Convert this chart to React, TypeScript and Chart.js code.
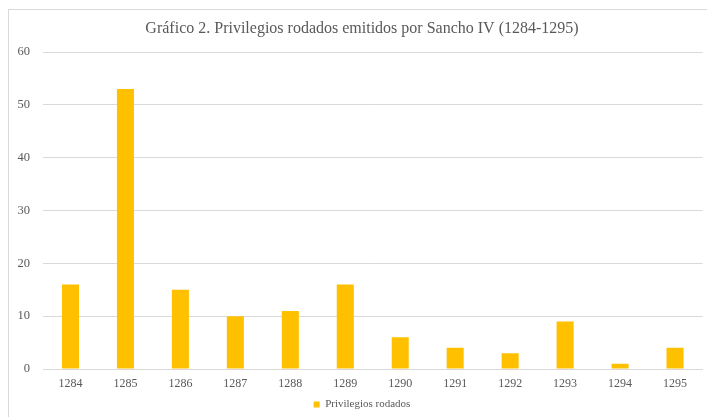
import React, { useEffect, useRef } from "react";
import { Chart, registerables } from "chart.js";

Chart.register(...registerables);

const years = ["1284", "1285", "1286", "1287", "1288", "1289", "1290", "1291", "1292", "1293", "1294", "1295"];
const privilegios = [16, 53, 15, 10, 11, 16, 6, 4, 3, 9, 1, 4];
const seriesName = "Privilegios rodados";
const chartTitle = "Gráfico 2. Privilegios rodados emitidos por Sancho IV (1284-1295)";

const FONT = "'Liberation Serif', 'DejaVu Serif', serif";
const TEXT = "#595959";
const GRID = "#d9d9d9";
const GOLD = "#FFC000";

export default function App() {
  const ref = useRef<HTMLCanvasElement | null>(null);

  useEffect(() => {
    if (!ref.current) return;
    const chart = new Chart(ref.current, {
      type: "bar",
      data: {
        labels: years,
        datasets: [
          {
            label: seriesName,
            data: privilegios,
            backgroundColor: GOLD,
            borderWidth: 0,
            barPercentage: 0.62,
            categoryPercentage: 0.5,
            yAxisID: "y",
          },
        ],
      },
      options: {
        animation: false,
        responsive: false,
        maintainAspectRatio: false,
        layout: { padding: { left: 0, right: 0, top: 0, bottom: 0 } },
        plugins: {
          title: {
            display: true,
            text: chartTitle,
            color: TEXT,
            font: { family: FONT, size: 16, weight: "normal" },
            padding: { top: 19.4, bottom: 13.4 },
          },
          legend: {
            display: true,
            position: "bottom",
            labels: {
              color: TEXT,
              font: { family: FONT, size: 11 },
              boxWidth: 6,
              boxHeight: 6,
              padding: 6,
            },
          },
          tooltip: { enabled: false },
        },
        scales: {
          x: {
            grid: { display: false, drawTicks: false },
            border: { display: true, color: GRID, width: 1 },
            ticks: {
              color: TEXT,
              font: { family: FONT, size: 12 },
              padding: 8,
              maxRotation: 0,
            },
            afterFit: (scale: any) => {
              scale.height = 24;
            },
          },
          y: {
            position: "left",
            min: 0,
            max: 60,
            grid: { color: GRID, lineWidth: 1, drawTicks: false },
            border: { display: false },
            ticks: {
              stepSize: 10,
              color: TEXT,
              font: { family: FONT, size: 12.5 },
              padding: 13,
            },
            afterFit: (scale: any) => {
              scale.width = 43;
            },
          },
          y2: {
            position: "right",
            display: true,
            grid: { display: false, drawTicks: false },
            border: { display: false },
            ticks: { display: false },
            afterFit: (scale: any) => {
              scale.width = 21.5;
            },
          },
        },
      },
    });
    return () => chart.destroy();
  }, []);

  return (
    <div>
      <div
        style={{
          position: "fixed",
          left: 8,
          top: 9,
          width: 720,
          height: 420,
          border: "1px solid #d9d9d9",
          boxSizing: "border-box",
        }}
      />
      <canvas
        ref={ref}
        width={724}
        height={420}
        style={{ position: "fixed", left: 0, top: 0, width: 724, height: 420 }}
      />
    </div>
  );
}
